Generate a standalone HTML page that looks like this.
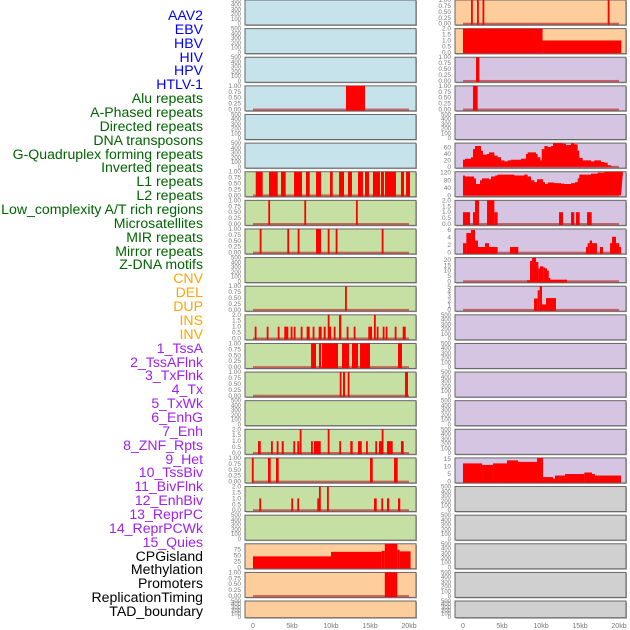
<!DOCTYPE html>
<html><head><meta charset="utf-8">
<style>
body{margin:0;width:630px;height:630px;background:#fff;overflow:hidden;position:relative;font-family:"Liberation Sans",sans-serif;}
.lbl{position:absolute;right:427px;font-size:14.1px;line-height:14px;white-space:nowrap;}
svg{position:absolute;left:0;top:0;}
</style></head><body>
<div id="labels"></div>
<svg id="chart" width="630" height="630"></svg>
<script>
const labelNames=["AAV2","EBV","HBV","HIV","HPV","HTLV-1","Alu repeats","A-Phased repeats","Directed repeats","DNA transposons","G-Quadruplex forming repeats","Inverted repeats","L1 repeats","L2 repeats","Low_complexity A/T rich regions","Microsatellites","MIR repeats","Mirror repeats","Z-DNA motifs","CNV","DEL","DUP","INS","INV","1_TssA","2_TssAFlnk","3_TxFlnk","4_Tx","5_TxWk","6_EnhG","7_Enh","8_ZNF_Rpts","9_Het","10_TssBiv","11_BivFlnk","12_EnhBiv","13_ReprPC","14_ReprPCWk","15_Quies","CPGisland","Methylation","Promoters","ReplicationTiming","TAD_boundary"];
const labelColors=[].concat(Array(6).fill("#0000ff"),Array(13).fill("#006400"),Array(5).fill("#ffa500"),Array(15).fill("#a020f0"),Array(5).fill("#000000"));
const xTicks=[0,5,10,15,20];
const xTickLabels=["0","5kb","10kb","15kb","20kb"];
// interval tracks: [startKb,endKb,value]
const L3=[[11.92,14.36,1]];
const L6=[[0.35,1.24,1],[2.05,3.17,1],[3.59,4.19,1],[5.26,6.28,1],[6.79,7.27,1],[8.08,8.72,1],[9.87,10.22,1],[11.03,11.67,1],[12.18,12.69,1],[13.46,14.1,1],[14.36,14.87,1],[15.38,16.28,1],[16.41,16.79,1],[16.92,18.33,1],[18.97,19.36,1],[19.62,20.13,1]];
const L7=[[1.96,1.96,1],[6.58,6.58,1],[13.2,13.2,1]];
const L8=[[0.86,0.86,1],[4.4,4.4,1],[5.73,5.73,1],[8.08,8.72,1],[9.58,9.58,1],[10.6,10.6,1],[16.5,16.5,1]];
const L10=[[11.8,11.8,1]];
const L11=[[0.22,0.22,1],[1.76,1.76,1],[3.17,3.37,1],[4.01,4.53,1],[4.83,4.83,1],[5.22,5.22,1],[6.12,6.32,1],[6.88,7.27,1],[7.65,7.65,1],[8.42,8.81,1],[9.06,9.32,1],[9.58,9.58,2],[9.78,9.78,1],[10.35,10.35,1],[11.03,11.32,2],[12.01,12.18,1],[12.91,12.91,1],[14.78,15.26,1],[15.51,15.73,2],[15.86,15.99,1],[16.63,16.63,1],[17.01,17.01,1],[18.17,18.17,1],[19.19,19.58,1]];
const L12=[[7.44,8.08,1],[8.46,8.72,1],[8.85,10.9,1],[11.41,12.31,1],[12.69,13.46,1],[13.72,15,1],[18.59,19.1,1]];
const L13=[[11.12,11.12,1],[11.54,11.8,1],[12.14,12.14,1],[19.49,19.87,1]];
const L15=[[0.64,0.99,1],[2.31,2.53,1],[3.04,3.04,1],[3.68,3.94,1],[5.17,5.17,1],[5.68,5.94,1],[5.99,6.19,2],[7.44,7.65,1],[7.82,8.68,1],[9.58,9.58,2],[11.06,11.06,1],[12.47,12.78,1],[13.46,13.94,1],[14.49,14.49,1],[15.68,15.68,1],[16.15,16.63,1],[16.5,16.5,2],[17.18,17.91,1],[18.97,19.32,1]];
const L16=[[-0.15,0.09,1],[1.92,2.27,1],[2.95,3.29,1],[15,15.35,1],[18.08,18.55,1]];
const L17=[[0.81,0.81,1],[4.91,4.91,1],[5.68,5.68,1],[8.24,8.42,1],[8.46,8.68,2],[9.49,9.49,2],[15.51,15.86,1],[16.45,16.45,1],[17.18,17.47,1],[18.59,18.88,1]];
const L19=[[0,10,47],[10,16.5,66],[16.5,16.9,70],[16.9,18.5,100],[18.5,18.8,75],[18.8,20.2,68]];
const L20=[[16.9,18.5,1]];
const R0=[[1.03,1.03,1],[1.8,1.8,1],[2.5,2.5,1],[18.55,18.55,1]];
const R1=[[0,10.2,2],[10.2,20.3,1]];
const R2=[[1.67,2.1,1]];
const R3=[[1.28,1.88,1]];
const R7=[[0,0.9,1],[1.28,1.54,1],[1.54,2.05,2],[3.08,4.02,2],[4.02,4.44,1],[12.31,12.82,1],[13.85,14.27,1],[14.49,14.96,1],[15.9,16.5,1]];
const R8=[[0,0.43,2.5],[0.43,1.03,5.2],[1.03,1.54,6],[1.54,1.92,3.2],[1.92,2.82,1.5],[2.82,3.33,2.5],[3.33,4.44,1.5],[6.02,7.09,1.5],[15.77,15.98,1.5],[15.98,16.24,2.5],[16.24,16.54,3.2],[16.54,17.18,2.5],[17.56,17.95,1.5],[18.85,19.1,2.5],[19.1,19.62,4.2],[19.62,20.04,2.5],[20.04,20.26,1.5]];
const R9=[[8.21,8.59,1],[8.59,8.85,19],[8.85,9.36,22],[9.36,9.66,18],[9.66,9.87,12],[9.87,10.3,14],[10.3,10.51,13],[10.51,10.77,12],[10.77,10.98,10],[10.98,11.2,3],[11.2,13.33,1.5]];
const R10=[[9.1,9.57,2.5],[9.57,9.83,4.3],[9.83,10.13,5.2],[10.13,10.64,1.2],[10.64,11.92,2.6]];
const R16=[[0,2.44,12],[2.44,3.85,11],[3.85,5.64,12],[5.64,7.05,14],[7.05,9.49,13],[9.49,10.26,16],[10.26,11.54,3],[11.54,11.79,2],[11.79,13.08,4],[13.08,15.56,5],[15.56,16.54,6],[16.54,16.92,5],[16.92,20.26,4]];
// step series
const R5kb=[0,0.26,1.03,1.28,1.54,2.05,2.31,2.56,3.08,3.33,3.85,4.02,4.44,4.87,5.3,5.73,6.15,7.44,8.08,8.29,9.36,9.57,9.92,10.09,10.43,10.85,11.28,11.54,12.14,12.78,13.21,13.85,14.27,14.7,14.91,15.34,16.41,16.84,17.48,17.69,18.12,18.55,18.97,19.19];
const R5val=[22,25,30,55,65,65,50,38,40,45,45,35,30,20,17,20,22,25,40,45,40,30,20,55,65,62,65,75,75,72,68,75,70,50,28,20,17,20,20,15,13,5,2,0];
const R6kb=[0,0.26,1.28,1.41,1.67,2.05,2.18,2.44,3.08,3.33,3.59,4.1,4.44,5.73,6.58,7.87,8.29,8.72,9.15,9.49,10.26,10.51,10.85,11.71,12.56,12.99,13.85,14.36,14.7,14.91,16.41,16.84,17.26,17.69,18.12,18.55,20.26];
const R6val=[105,100,100,90,60,60,80,90,90,85,100,105,110,110,105,110,100,80,70,85,70,60,68,65,62,60,65,70,90,110,115,115,120,120,125,130,130];
const binT=["0.00","0.25","0.50","0.75","1.00"], twoT=["0.0","0.5","1.0","1.5","2.0"], emptyT=["0","100","200","300","400","500"];
const leftTracks=[
 {t:emptyT,max:500},{t:emptyT,max:500},{t:emptyT,max:500},{t:binT,max:1,d:L3},{t:emptyT,max:500},{t:emptyT,max:500},
 {t:binT,max:1,d:L6},{t:binT,max:1,d:L7},{t:binT,max:1,d:L8},{t:emptyT,max:500},{t:binT,max:1,d:L10},{t:twoT,max:2,d:L11},
 {t:binT,max:1,d:L12},{t:binT,max:1,d:L13},{t:emptyT,max:500},{t:twoT,max:2,d:L15},{t:binT,max:1,d:L16},{t:twoT,max:2,d:L17},
 {t:emptyT,max:500},{t:["0","25","50","75"],max:100,d:L19,nobase:1},{t:binT,max:1,d:L20},{t:emptyT,max:500}];
const rightTracks=[
 {t:binT,max:1,d:R0},{t:twoT,max:2,d:R1,nobase:1},{t:binT,max:1,d:R2},{t:binT,max:1,d:R3},{t:emptyT,max:500},
 {t:["0","20","40","60"],max:74,s:[R5kb,R5val]},{t:["0","40","80","120"],max:125,s:[R6kb,R6val]},{t:twoT,max:2,d:R7},
 {t:["0","2","4","6"],max:6.26,d:R8},{t:["0","5","10","15","20"],max:22.2,d:R9},{t:["0","1","2","3","4","5"],max:5.2,d:R10},
 {t:emptyT,max:500},{t:emptyT,max:500},{t:emptyT,max:500},{t:emptyT,max:500},{t:emptyT,max:500},
 {t:["0","5","10","15"],max:15.6,d:R16},{t:emptyT,max:500},{t:emptyT,max:500},{t:emptyT,max:500},{t:emptyT,max:500},{t:emptyT,max:500}];
const leftColors=[].concat(Array(6).fill("#c6e3eb"),Array(13).fill("#c6e0a4"),Array(3).fill("#fecd9c"));
const rightColors=[].concat(Array(2).fill("#fecd9c"),Array(15).fill("#d5c5e2"),Array(5).fill("#d0d0d0"));

const NS="http://www.w3.org/2000/svg";
const svg=document.getElementById('chart');
function mk(tag,attrs,parent){const e=document.createElementNS(NS,tag);for(const k in attrs)e.setAttribute(k,attrs[k]);(parent||svg).appendChild(e);return e;}
const labDiv=document.getElementById('labels');
labelNames.forEach((n,i)=>{const d=document.createElement('div');d.className='lbl';d.textContent=n;d.style.color=labelColors[i];d.style.top=(15+i*13.86-7)+'px';
 
 
 labDiv.appendChild(d);});
const rowPitch=28.62;
function drawCol(tracks,colors,px,x0){
 tracks.forEach((tr,i)=>{
  const top=i*rowPitch, h=(i===21)?16.7:25, w=171;
  const xs=kb=>x0+kb*7.8;
  const ymin=-0.055*tr.max;
  const ys=v=>top+h-(v-ymin)/(tr.max-ymin)*h;
  const g=mk('g',{});
  
  
  mk('rect',{x:px+1,y:top+1,width:w,height:h,fill:'#aaa'},g);
  mk('rect',{x:px,y:top,width:w,height:h,fill:colors[i],stroke:'#666','stroke-width':1},g);
  tr.t.forEach((lab,j)=>{
   const v=(tr.max===500)?j*100:parseFloat(lab);
   const t=mk('text',{x:px-4,y:ys(v)+2,'font-size':(tr.max===500?6:6.5),fill:'#777','text-anchor':'end'},g);
   t.textContent=lab;
   
   
  });
  if(tr.d||tr.s){
   if(!tr.nobase){const b=mk('rect',{x:xs(0),y:ys(0)-1,width:xs(20)-xs(0),height:2,fill:'rgba(190,50,50,0.7)'},g);
    
    }
  }
  if(tr.d){
   tr.d.forEach(iv=>{
    const x1=xs(iv[0]),x2=Math.max(xs(iv[1]),x1+1.8);
    const v=Math.min(iv[2],tr.max);
    const r=mk('rect',{x:x1,y:Math.max(ys(v),top),width:x2-x1,height:ys(0)-Math.max(ys(v),top)+1,fill:'#ff0000'},g);
    
    
   });
  }
  if(tr.s){
   const kbs=tr.s[0],vals=tr.s[1];let p='M'+xs(kbs[0])+','+ys(0);
   for(let k=0;k<kbs.length;k++){const xn=(k+1<kbs.length)?xs(kbs[k+1]):xs(kbs[k])+2;const yv=Math.max(ys(Math.min(vals[k],tr.max)),top);p+=' L'+xs(kbs[k])+','+yv+' L'+xn+','+yv;}
   p+=' L'+xs(kbs[kbs.length-1])+','+ys(0)+' Z';
   const a=mk('path',{d:p,fill:'#ff0000'},g);
   
   
  }
 });
 xTicks.forEach((k,j)=>{const t=mk('text',{x:x0+k*7.8,y:628,'font-size':7,fill:'#777','text-anchor':'middle'});t.textContent=xTickLabels[j];
  
  });
}
drawCol(leftTracks,leftColors,245,253);
drawCol(rightTracks,rightColors,455,463);
</script>
</body></html>
